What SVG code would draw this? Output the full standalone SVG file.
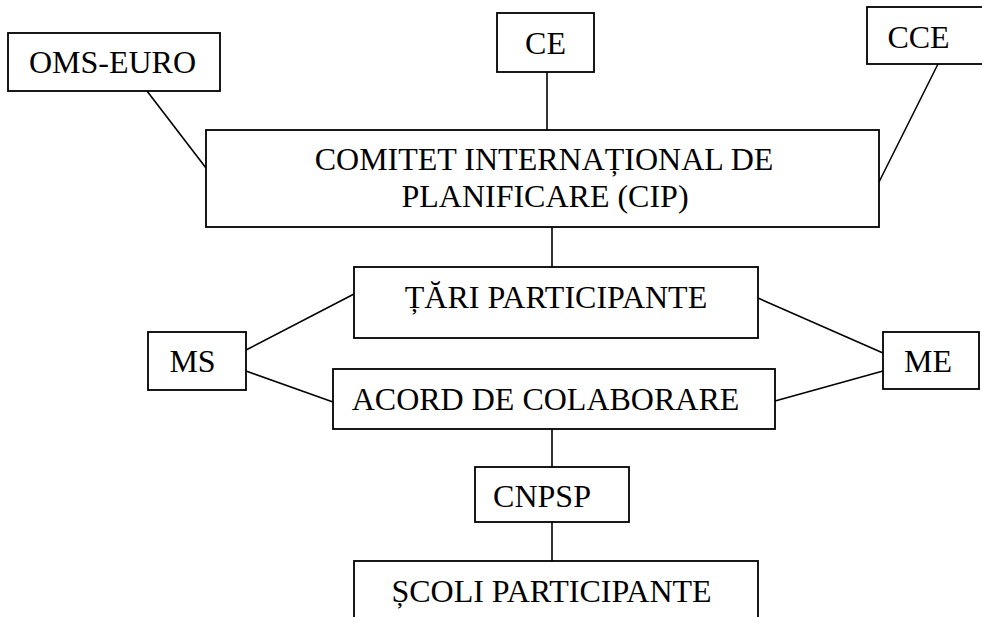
<svg xmlns="http://www.w3.org/2000/svg" width="982" height="617" viewBox="0 0 982 617">
<style>
.box{fill:#fff;stroke:#000;stroke-width:1.8}
.ln{stroke:#000;stroke-width:1.6;fill:none}
text{font-family:"Liberation Serif","Times New Roman",serif;font-size:32px;fill:#000;text-anchor:middle}
</style>
<rect x="0" y="0" width="982" height="617" fill="#fff"/>
<g id="connectors">
<line class="ln" x1="147" y1="91" x2="206" y2="168"/>
<line class="ln" x1="547" y1="72" x2="547" y2="130"/>
<line class="ln" x1="938" y1="64" x2="879" y2="182"/>
<line class="ln" x1="552" y1="227" x2="552" y2="267"/>
<line class="ln" x1="246" y1="350" x2="354" y2="294"/>
<line class="ln" x1="246" y1="371" x2="333" y2="402"/>
<line class="ln" x1="758" y1="298" x2="883" y2="353"/>
<line class="ln" x1="775" y1="401" x2="883" y2="371"/>
<line class="ln" x1="552" y1="429" x2="552" y2="467"/>
<line class="ln" x1="552" y1="522" x2="552" y2="561"/>
</g>
<g id="oms-euro">
<rect class="box" x="8" y="33" width="212" height="58"/>
<text x="112.5" y="73">OMS-EURO</text>
</g>
<g id="ce">
<rect class="box" x="497" y="13" width="97" height="59"/>
<text x="545.5" y="54">CE</text>
</g>
<g id="cce">
<rect class="box" x="867" y="7" width="130" height="57"/>
<text x="918.5" y="48">CCE</text>
</g>
<g id="cip">
<rect class="box" x="206" y="130" width="673" height="97"/>
<text x="544" y="170">COMITET INTERNAȚIONAL DE</text>
<text x="545" y="207">PLANIFICARE (CIP)</text>
</g>
<g id="tari">
<rect class="box" x="354" y="267" width="404" height="71"/>
<text x="556" y="308">ȚĂRI PARTICIPANTE</text>
</g>
<g id="ms">
<rect class="box" x="148" y="332" width="98" height="58"/>
<text x="192.5" y="372">MS</text>
</g>
<g id="me">
<rect class="box" x="883" y="332" width="96" height="57"/>
<text x="928" y="372">ME</text>
</g>
<g id="acord">
<rect class="box" x="333" y="369" width="442" height="60"/>
<text x="545.5" y="410">ACORD DE COLABORARE</text>
</g>
<g id="cnpsp">
<rect class="box" x="475" y="467" width="154" height="55"/>
<text x="542" y="507">CNPSP</text>
</g>
<g id="scoli">
<rect class="box" x="354" y="561" width="404" height="80"/>
<text x="551.5" y="602">ȘCOLI PARTICIPANTE</text>
</g>
</svg>
